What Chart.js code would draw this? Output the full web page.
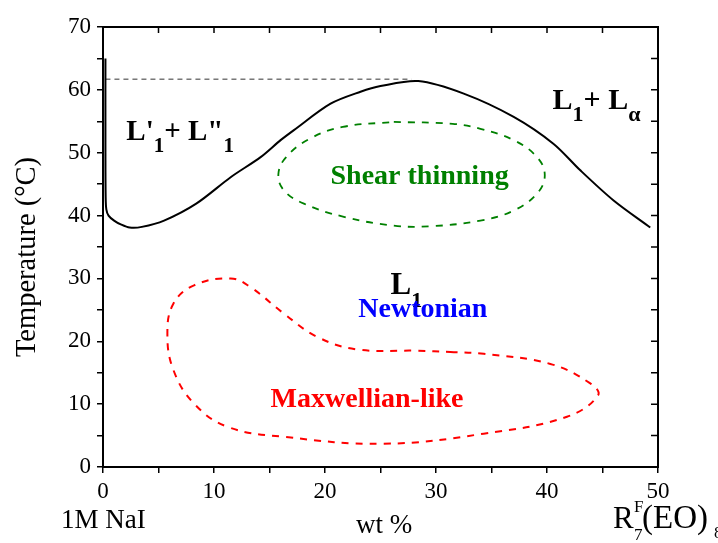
<!DOCTYPE html>
<html>
<head>
<meta charset="utf-8">
<script src="https://cdn.jsdelivr.net/npm/chart.js@4.4.0/dist/chart.umd.min.js"></script>
<style>
  html, body { margin: 0; padding: 0; background: #fff; }
</style>
</head>
<body>
<canvas id="phase-chart" width="718" height="543"></canvas>
<script>
  // Phase boundary (solid black)
  var boundaryX = [0.22, 0.22, 0.24, 0.3, 0.5, 1.0, 1.6, 2.4, 3.5, 5.5, 8.4, 11.5, 14.2, 16.0, 17.2, 20.5, 23.2, 25.0, 28.4, 32.5, 37.0, 40.6, 43.0, 46.0, 49.3]
  var boundaryY = [65, 50, 43, 41, 40.0, 39.2, 38.6, 38.1, 38.2, 39.2, 41.9, 46.1, 49.3, 52.0, 53.6, 57.8, 59.7, 60.6, 61.4, 59.4, 55.7, 51.4, 47.2, 42.4, 38.1]

  // Dashed horizontal line (cloud point plateau)
  var plateauX = [0.22, 27.8]
  var plateauY = [61.7, 61.7]

  // Shear thinning region (green dashed loop)
  var shearX = [26.2, 31.5, 34.0, 37.0, 39.1, 39.8, 39.1, 37.0, 34.0, 29.5, 26.2, 21.7, 18.1, 16.3, 15.8, 16.5, 18.6, 21.6, 26.2]
  var shearY = [54.9, 54.6, 53.8, 52.0, 49.3, 46.4, 43.5, 40.8, 39.2, 38.3, 38.4, 39.8, 41.9, 44.0, 46.6, 49.3, 52.2, 54.1, 54.9]

  // Maxwellian-like region (red dashed loop)
  var maxwellX = [31.3, 34.3, 40.3, 43.9, 44.6, 41.8, 34.3, 25.3, 16.3, 11.2, 8.2, 6.35, 5.8, 6.35, 8.2, 11.5, 13.3, 16.3, 19.3, 22.9, 28.3, 31.3]
  var maxwellY = [18.3, 18.0, 16.4, 13.3, 11.4, 8.0, 5.3, 3.7, 4.8, 6.4, 10.1, 15.4, 21.2, 26.0, 28.9, 30.0, 28.6, 24.4, 20.7, 18.7, 18.5, 18.3]

  var xTicks = [0, 10, 20, 30, 40, 50]
  var yTicks = [0, 10, 20, 30, 40, 50, 60, 70]

  function pts(xs, ys) {
    return xs.map(function (x, i) { return { x: x, y: ys[i] } })
  }

  var SERIF = '"Liberation Serif", "Times New Roman", serif'

  // region labels: [x, y] in data units, parts = [text, 'sub'|null]
  var regionLabels = [
    { x: 2.1, y: 52.0, size: 29, color: '#000', parts: [["L'", null], ['1', 'sub'], ['+ L"', null], ['1', 'sub']] },
    { x: 40.5, y: 57.0, size: 30, color: '#000', parts: [['L', null], ['1', 'sub'], ['+ L', null], ['\u03b1', 'sub']] },
    { x: 25.9, y: 27.6, size: 31, color: '#000', parts: [['L', null], ['1', 'sub']] },
    { x: 23.0, y: 23.8, size: 28, color: '#0000ff', parts: [['Newtonian', null]] },
    { x: 20.5, y: 45.0, size: 28, color: '#008000', parts: [['Shear thinning', null]] },
    { x: 15.1, y: 9.5, size: 28, color: '#ff0000', parts: [['Maxwellian-like', null]] }
  ]

  function drawRich(ctx, x, y, parts, size, color) {
    ctx.fillStyle = color
    ctx.textAlign = 'left'
    ctx.textBaseline = 'alphabetic'
    parts.forEach(function (p) {
      var s = p[1] ? Math.round(size * 0.72) : size
      ctx.font = 'bold ' + s + 'px ' + SERIF
      var dy = p[1] === 'sub' ? size * 0.42 : 0
      ctx.fillText(p[0], x, y + dy)
      x += ctx.measureText(p[0]).width
    })
  }

  var decorPlugin = {
    id: 'decor',
    afterDraw: function (chart) {
      var ctx = chart.ctx
      var a = chart.chartArea
      var sx = chart.scales.x
      var sy = chart.scales.y
      ctx.save()
      // frame
      ctx.strokeStyle = '#000'
      ctx.lineWidth = 2
      ctx.strokeRect(a.left, a.top, a.right - a.left, a.bottom - a.top)
      // inward ticks on top and right
      ctx.lineWidth = 1.5
      ctx.beginPath()
      for (var v = 0; v <= 50; v += 5) {
        var px = sx.getPixelForValue(v)
        ctx.moveTo(px, a.top)
        ctx.lineTo(px, a.top + 6)
      }
      for (var w = 0; w <= 70; w += 5) {
        var py = sy.getPixelForValue(w)
        ctx.moveTo(a.right, py)
        ctx.lineTo(a.right - 7, py)
      }
      ctx.stroke()

      // region labels
      regionLabels.forEach(function (l) {
        drawRich(ctx, sx.getPixelForValue(l.x), sy.getPixelForValue(l.y), l.parts, l.size, l.color)
      })

      // axis titles
      ctx.fillStyle = '#000'
      ctx.font = '27px ' + SERIF
      ctx.textBaseline = 'alphabetic'
      ctx.textAlign = 'left'
      ctx.fillText('1M NaI', 61, 528)
      ctx.textAlign = 'center'
      ctx.fillText('wt %', 384, 533)

      // R7F(EO)8 label
      ctx.textAlign = 'left'
      ctx.font = '31px ' + SERIF
      ctx.fillText('R', 613, 528)
      ctx.font = '17px ' + SERIF
      ctx.fillText('F', 634, 512)
      ctx.fillText('7', 634, 540)
      ctx.font = '33px ' + SERIF
      ctx.fillText('(EO)', 642, 528)
      ctx.font = '17px ' + SERIF
      ctx.fillText('8', 714, 538)

      // y title
      ctx.save()
      ctx.translate(35, 257)
      ctx.rotate(-Math.PI / 2)
      ctx.textAlign = 'center'
      ctx.font = '28.5px ' + SERIF
      ctx.fillText('Temperature (\u00b0C)', 0, 0)
      ctx.restore()
      ctx.restore()
    }
  }

  var lineStyle = { showLine: true, pointRadius: 0, fill: false }

  var chart = new Chart(document.getElementById('phase-chart').getContext('2d'), {
    type: 'scatter',
    data: {
      datasets: [
        Object.assign({ data: pts(boundaryX, boundaryY), borderColor: '#000', borderWidth: 2, tension: 0.3 }, lineStyle),
        Object.assign({ data: pts(plateauX, plateauY), borderColor: '#333', borderWidth: 1, borderDash: [5, 4], tension: 0 }, lineStyle),
        Object.assign({ data: pts(shearX, shearY), borderColor: '#008000', borderWidth: 1.8, borderDash: [7, 7], tension: 0.4 }, lineStyle),
        Object.assign({ data: pts(maxwellX, maxwellY), borderColor: '#ff0000', borderWidth: 2, borderDash: [7, 7], tension: 0.4 }, lineStyle)
      ]
    },
    options: {
      responsive: false,
      animation: false,
      layout: { padding: { top: 27, right: 60, left: 0, bottom: 0 } },
      plugins: {
        legend: { display: false },
        tooltip: { enabled: false }
      },
      scales: {
        x: {
          type: 'linear',
          min: 0,
          max: 50,
          afterFit: function (s) { s.height = 76 },
          ticks: {
            stepSize: 5,
            color: '#000',
            padding: 5,
            maxRotation: 0,
            font: { family: SERIF, size: 23 },
            callback: function (v) { return xTicks.indexOf(v) >= 0 ? v : '' }
          },
          grid: { drawOnChartArea: false, drawTicks: true, tickLength: 6, color: '#000', lineWidth: 1.5 },
          border: { display: true, color: '#000', width: 2 }
        },
        y: {
          type: 'linear',
          min: 0,
          max: 70,
          afterFit: function (s) { s.width = 103 },
          ticks: {
            stepSize: 5,
            color: '#000',
            padding: 6,
            font: { family: SERIF, size: 23 },
            callback: function (v) { return yTicks.indexOf(v) >= 0 ? v : '' }
          },
          grid: { drawOnChartArea: false, drawTicks: true, tickLength: 6, color: '#000', lineWidth: 1.5 },
          border: { display: true, color: '#000', width: 2 }
        }
      }
    },
    plugins: [decorPlugin]
  })
</script>
</body>
</html>
